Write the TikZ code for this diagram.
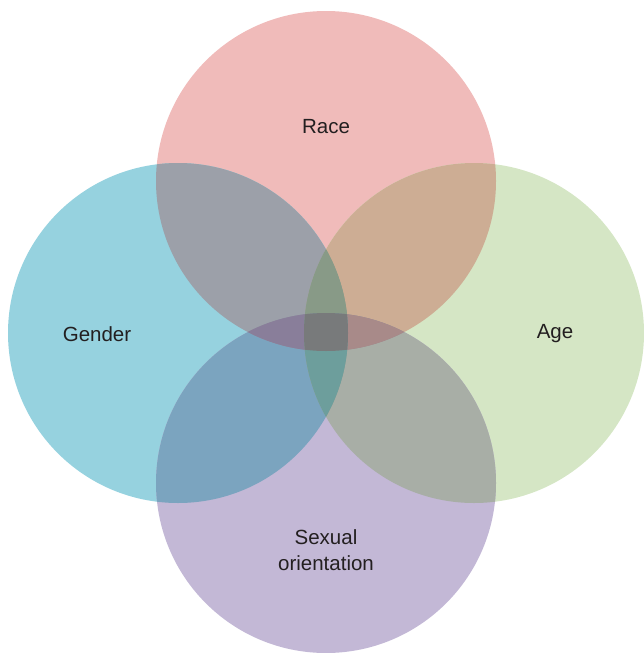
\documentclass[tikz,border=0pt]{standalone}
\usepackage{fontspec}
\setmainfont{Liberation Sans}
\begin{document}
\definecolor{raceC}{HTML}{F0BBBA}
\definecolor{genderC}{HTML}{96D2DF}
\definecolor{ageC}{HTML}{D5E6C5}
\definecolor{sexC}{HTML}{C3B8D6}
\definecolor{rgC}{HTML}{9CA0A9}
\definecolor{raC}{HTML}{CDAD94}
\definecolor{gsC}{HTML}{7BA4BF}
\definecolor{asC}{HTML}{A8AEA6}
\definecolor{rsC}{HTML}{9A8490}
\definecolor{gaC}{HTML}{7E9C92}
\definecolor{rgaC}{HTML}{889A87}
\definecolor{rgsC}{HTML}{897E9A}
\definecolor{rasC}{HTML}{A88A89}
\definecolor{gasC}{HTML}{6D9E9C}
\definecolor{allC}{HTML}{787A7B}
\definecolor{labelC}{HTML}{231F20}
\begin{tikzpicture}[x=1pt,y=-1pt,
  lbl/.style={text=labelC,font=\fontsize{20.5}{25.5}\selectfont,align=center}]
\useasboundingbox (0,0) rectangle (643,653);
\def\R{170}
\coordinate (cr) at (326,181);
\coordinate (cg) at (178,333);
\coordinate (ca) at (474,333);
\coordinate (cs) at (326,483);
% single circles
\fill[raceC] (cr) circle[radius=\R];
\fill[genderC] (cg) circle[radius=\R];
\fill[ageC] (ca) circle[radius=\R];
\fill[sexC] (cs) circle[radius=\R];
% pairwise overlaps
\begin{scope}\clip (cr) circle[radius=\R]; \fill[rgC] (cg) circle[radius=\R];\end{scope}
\begin{scope}\clip (cr) circle[radius=\R]; \fill[raC] (ca) circle[radius=\R];\end{scope}
\begin{scope}\clip (cg) circle[radius=\R]; \fill[gsC] (cs) circle[radius=\R];\end{scope}
\begin{scope}\clip (ca) circle[radius=\R]; \fill[asC] (cs) circle[radius=\R];\end{scope}
\begin{scope}\clip (cr) circle[radius=\R]; \fill[rsC] (cs) circle[radius=\R];\end{scope}
\begin{scope}\clip (cg) circle[radius=\R]; \fill[gaC] (ca) circle[radius=\R];\end{scope}
% triple overlaps
\begin{scope}\clip (cr) circle[radius=\R]; \clip (cg) circle[radius=\R]; \fill[rgaC] (ca) circle[radius=\R];\end{scope}
\begin{scope}\clip (cr) circle[radius=\R]; \clip (cg) circle[radius=\R]; \fill[rgsC] (cs) circle[radius=\R];\end{scope}
\begin{scope}\clip (cr) circle[radius=\R]; \clip (ca) circle[radius=\R]; \fill[rasC] (cs) circle[radius=\R];\end{scope}
\begin{scope}\clip (cg) circle[radius=\R]; \clip (ca) circle[radius=\R]; \fill[gasC] (cs) circle[radius=\R];\end{scope}
% all four
\begin{scope}\clip (cr) circle[radius=\R]; \clip (cg) circle[radius=\R]; \clip (ca) circle[radius=\R]; \fill[allC] (cs) circle[radius=\R];\end{scope}
% labels
\node[lbl] (race) at (326,127) {Race};
\node[lbl] (gender) at (97,334) {Gender};
\node[lbl] (age) at (555,334) {Age};
\node[lbl] (sexual) at (326,550) {Sexual\\orientation};
\end{tikzpicture}
\end{document}
